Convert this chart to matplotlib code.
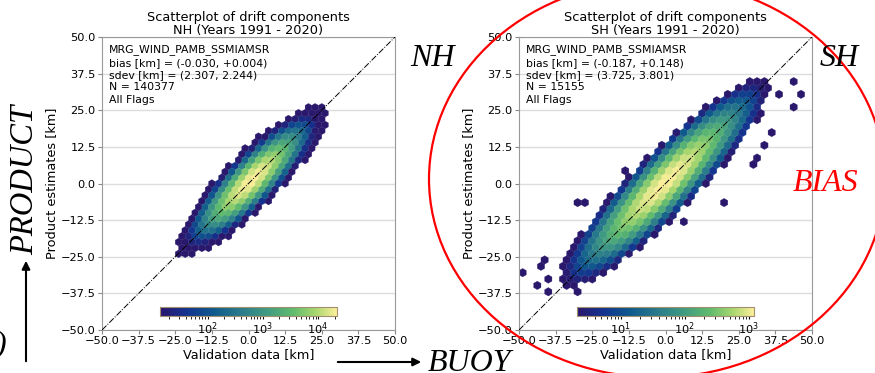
import numpy as np
import matplotlib.pyplot as plt
from matplotlib.colors import LinearSegmentedColormap, LogNorm
from matplotlib.patches import Ellipse

# colormap close to cmocean "haline"
haline = LinearSegmentedColormap.from_list("haline", [
    (0.00, "#2a186c"), (0.15, "#13338f"), (0.30, "#0f5a8c"),
    (0.45, "#297a8b"), (0.60, "#3f9a82"), (0.75, "#5fba6e"),
    (0.88, "#a8d66e"), (1.00, "#fdef9a")])

hemis = ["NH", "SH"]
product = "MRG_WIND_PAMB_SSMIAMSR"
bias = [(-0.030, +0.004), (-0.187, +0.148)]
sdev = [(2.307, 2.244), (3.725, 3.801)]
n_obs = [140377, 15155]
# peak count per hex, spread along / across the 1:1 line
peak_count = [22000, 1200]
spread_along = [5.6, 9.3]
spread_across = [3.0, 4.0]
centre_along = [1.0, 0.0]
gridsize = [44, 40]
cbar_range = [(14, 22000), (2.1, 1200)]

# isolated hexes seen in the SH panel (x, y)
sh_out_x = [47.3, 44.9, 43.8, 36.6, 32.9, 30.5, 30.5, 19.5, 5.1, -16.4, -49.0,
            -43.8, -40.4, -30.8, -28.0, -29.0, -41.8, -42.0, -39.4, -12.7, -22.0, 40.0]
sh_out_y = [31.2, 34.3, 26.8, 17.6, 12.8, 9.7, 6.7, -7.0, -13.1, -28.5, -29.9,
            -36.0, -37.4, -37.4, -5.6, -7.0, -26.8, -28.5, -33.0, 3.9, -18.0, 31.0]

ticks = np.arange(-50, 50.1, 12.5)

fig = plt.figure(figsize=(8.75, 3.73), dpi=100)
lefts = [102 / 875, 519 / 875]

for k in range(2):
    ax = fig.add_axes([lefts[k], 43 / 373, 293 / 875, 293 / 373])
    nx = gridsize[k]
    ny = int(nx / np.sqrt(3))
    sx = 100.0 / nx
    sy = 100.0 / ny
    g1x, g1y = np.meshgrid(-50 + np.arange(nx + 1) * sx, -50 + np.arange(ny + 1) * sy)
    g2x, g2y = np.meshgrid(-50 + (np.arange(nx) + 0.5) * sx, -50 + (np.arange(ny) + 0.5) * sy)
    hx = np.concatenate([g1x.ravel(), g2x.ravel()])
    hy = np.concatenate([g1y.ravel(), g2y.ravel()])
    u = (hx + hy) / 2 - centre_along[k]
    d = hy - hx - (bias[k][1] - bias[k][0])
    cnt = peak_count[k] * np.exp(-u ** 2 / (2 * spread_along[k] ** 2)
                                 - d ** 2 / (2 * spread_across[k] ** 2))
    keep = cnt >= 1
    px, py, pc = hx[keep], hy[keep], cnt[keep]
    if k == 1:
        px = np.concatenate([px, sh_out_x])
        py = np.concatenate([py, sh_out_y])
        pc = np.concatenate([pc, np.ones(len(sh_out_x))])
    hb = ax.hexbin(px, py, C=pc, reduce_C_function=np.sum, gridsize=nx,
                   extent=(-50, 50, -50, 50), cmap=haline,
                   norm=LogNorm(vmin=cbar_range[k][0], vmax=cbar_range[k][1]),
                   linewidths=0.2, edgecolors="face", zorder=2)
    ax.plot([-50, 50], [-50, 50], color="black", lw=0.7, ls="-.", zorder=3)
    ax.set_xlim(-50, 50)
    ax.set_ylim(-50, 50)
    ax.set_xticks(ticks)
    ax.set_yticks(ticks)
    ax.tick_params(labelsize=8.2, color="#888888", length=3, pad=1.5)
    ax.yaxis.grid(True, color="#dddddd", lw=1, zorder=0)
    for sp in ax.spines.values():
        sp.set_color("#999999")
    ax.set_xlabel("Validation data [km]", fontsize=9.3, labelpad=1)
    ax.set_ylabel("Product estimates [km]", fontsize=9.3, labelpad=2)
    ax.set_title("Scatterplot of drift components\n%s (Years 1991 - 2020)" % hemis[k],
                 fontsize=9.3, pad=2, linespacing=1.0)
    txt = "%s\nbias [km] = (%.3f, %+.3f)\nsdev [km] = (%.3f, %.3f)\nN = %d\nAll Flags" % (
        product, bias[k][0], bias[k][1], sdev[k][0], sdev[k][1], n_obs[k])
    ax.text(0.025, 0.975, txt, transform=ax.transAxes, fontsize=7.8, va="top",
            ha="left", linespacing=1.3)
    cax = ax.inset_axes([0.199, 0.048, 0.603, 0.031])
    cb = fig.colorbar(hb, cax=cax, orientation="horizontal")
    cb.ax.tick_params(labelsize=8.2, length=2, pad=1)
    cb.outline.set_edgecolor("#a09070")

# hand-drawn style annotations around the plots
serif = ["Liberation Serif", "DejaVu Serif"]
fig.text(410 / 875, 1 - 66 / 373, "NH", fontsize=23, style="italic", family=serif)
fig.text(820 / 875, 1 - 66 / 373, "SH", fontsize=23, style="italic", family=serif)
fig.text(793 / 875, 1 - 191 / 373, "BIAS", fontsize=23, style="italic", family=serif,
         color="red")
fig.text(428 / 875, 1 - 371 / 373, "BUOY", fontsize=23, style="italic", family=serif)
fig.text(10 / 875, 1 - 248 / 373, "PRODUCT", fontsize=23.5, style="italic", family=serif,
         rotation=90)
fig.text(-4 / 875, 1 - 352 / 373, ")", fontsize=23, style="italic", family=serif)
fig.patches.append(Ellipse((657 / 875, 194 / 373), 456 / 875, 397 / 373, fill=False,
                           edgecolor="red", lw=1.6, transform=fig.transFigure, figure=fig))
fig.patches[-1].set_clip_on(False)
ax.annotate("", xy=(26 / 875, 1 - 258 / 373), xytext=(26 / 875, 1 - 364 / 373),
            xycoords="figure fraction", textcoords="figure fraction",
            arrowprops=dict(arrowstyle="-|>", color="black", lw=1.5, mutation_scale=12))
ax.annotate("", xy=(424 / 875, 1 - 362 / 373), xytext=(335 / 875, 1 - 362 / 373),
            xycoords="figure fraction", textcoords="figure fraction",
            arrowprops=dict(arrowstyle="-|>", color="black", lw=1.5, mutation_scale=12))

fig.savefig("out.png", dpi=100)
